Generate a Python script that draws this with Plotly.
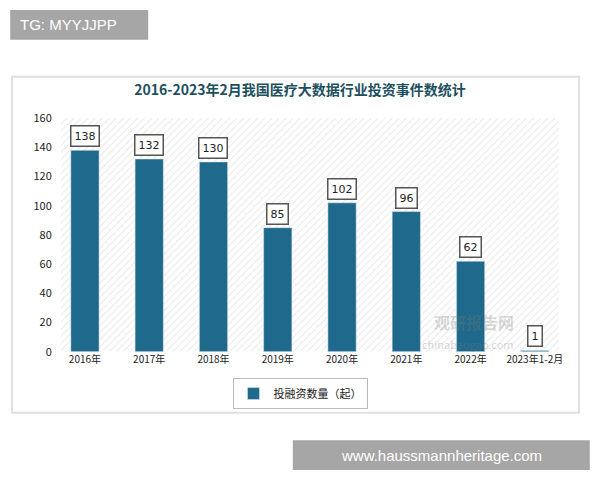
import plotly.graph_objects as go

categories = ["2016年", "2017年", "2018年", "2019年", "2020年", "2021年", "2022年", "2023年1-2月"]
values = [138, 132, 130, 85, 102, 96, 62, 1]
series_name = "投融资数量（起）"

dx = 8 / 600
dy = 8 / 480

pos = list(range(len(categories)))
fig = go.Figure()
fig.add_trace(go.Bar(x=[(len(categories) - 1) / 2], y=[160], width=[len(categories) - 0.25],
                     marker=dict(color="white", line=dict(width=0),
                                 pattern=dict(shape="/", fgcolor="#cfcfcf", bgcolor="white", size=5, solidity=0.2)),
                     showlegend=False, hoverinfo="skip"))
fig.add_trace(go.Bar(x=pos, y=values, name=series_name, width=0.44, marker=dict(color="#1f6a8c")))

annotations = []
for p, v in zip(pos, values):
    annotations.append(dict(x=p, y=v, yshift=14, text=str(v), showarrow=False, xref="x", yref="y",
                            font=dict(size=11, color="#222", family="DejaVu Sans"),
                            bgcolor="white", bordercolor="#555", borderwidth=1.5, borderpad=3))
annotations += [
    dict(text="TG: MYYJJPP", xref="paper", yref="paper", x=0.03 - dx, y=0.948 + dy, xanchor="left",
         yanchor="middle", showarrow=False, font=dict(size=15, color="white", family="Liberation Sans")),
    dict(text="www.haussmannheritage.com", xref="paper", yref="paper", x=0.735 - dx, y=0.052 + dy,
         xanchor="center", yanchor="middle", showarrow=False,
         font=dict(size=15, color="white", family="Liberation Sans")),
    dict(text="<b>观研报告网</b>", xref="paper", yref="paper", x=0.86 - dx, y=0.3 + dy,
         showarrow=False, font=dict(size=16, color="rgba(120,120,120,0.3)")),
    dict(text="chinabaogao.com", xref="paper", yref="paper", x=0.86 - dx, y=0.262 + dy,
         showarrow=False, font=dict(size=11, color="rgba(120,120,120,0.3)")),
]

fig.update_layout(
    width=600, height=480, paper_bgcolor="white", plot_bgcolor="white",
    margin=dict(l=0, r=0, t=0, b=0),
    xaxis=dict(domain=[0.088 - dx, 0.945 - dx], range=[-0.5, len(categories) - 0.5], showgrid=False,
               tickmode="array", tickvals=pos, ticktext=categories, automargin=False,
               tickfont=dict(size=10, color="#222"), showline=False, zeroline=False),
    yaxis=dict(domain=[0.267 + dy, 0.754 + dy], range=[0, 160], dtick=20, showgrid=False, zeroline=False,
               automargin=False, tickfont=dict(size=11, color="#222")),
    barmode="overlay",
    showlegend=True,
    legend=dict(x=0.5 - dx, y=0.18 + dy, xanchor="center", yanchor="middle", orientation="h",
                bordercolor="#bbb", borderwidth=1, font=dict(size=11, color="#222")),
    title=dict(text="<b>2016-2023年2月我国医疗大数据行业投资事件数统计</b>", x=0.5 - dx, y=0.812 + dy,
               xanchor="center", yanchor="middle",
               font=dict(size=14, color="#1d4f5e", family="Noto Sans CJK SC")),
    shapes=[
        dict(type="rect", xref="paper", yref="paper", x0=0.02 - dx, x1=0.965 - dx, y0=0.14 + dy, y1=0.84 + dy,
             line=dict(color="#e0e0e0", width=2), fillcolor="rgba(0,0,0,0)", layer="below"),
        dict(type="rect", xref="paper", yref="paper", x0=0.017 - dx, x1=0.247 - dx, y0=0.917 + dy, y1=0.979 + dy,
             line=dict(width=0), fillcolor="#a6a6a6", layer="below"),
        dict(type="rect", xref="paper", yref="paper", x0=0.488 - dx, x1=0.983 - dx, y0=0.021 + dy, y1=0.083 + dy,
             line=dict(width=0), fillcolor="#a6a6a6", layer="below"),
    ],
    annotations=annotations,
    font=dict(family="Noto Sans CJK SC"),
)
fig.write_html("out.html")
